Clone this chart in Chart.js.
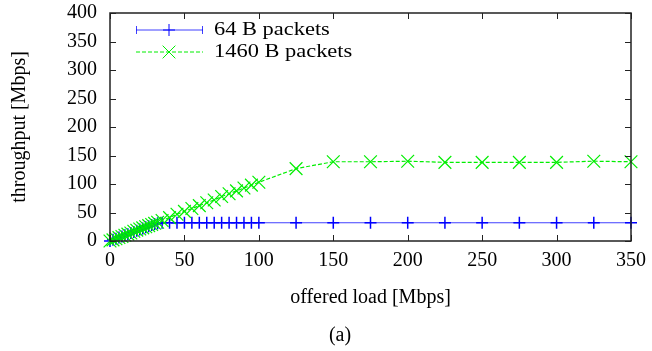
<!DOCTYPE html>
<html>
<head>
<meta charset="utf-8">
<script src="https://cdn.jsdelivr.net/npm/chart.js@4.4.1/dist/chart.umd.min.js"></script>
<style>
  body { margin: 0; background: #fff; }
  #wrap { position: relative; width: 652px; height: 351px; }
  #legenda { position: absolute; left: 0; top: 323px; width: 680px; text-align: center;
             font: 20px "Liberation Serif", serif; color: #000; }
</style>
</head>
<body>
<div id="wrap">
  <canvas id="graficoVazao" width="652" height="351"></canvas>
  <div id="legenda">(a)</div>
</div>
<script>
// carga oferecida (Mbps)
const cargas = [0, 2, 4, 6, 8, 10, 12, 14, 16, 18, 20, 22, 24, 26, 28, 30, 32,
  35, 40, 45, 50, 55, 60, 65, 70, 75, 80, 85, 90, 95, 100,
  125, 150, 175, 200, 225, 250, 275, 300, 325, 350];
// vazao com pacotes de 64 B
const vazao64 = [0, 2, 4, 6, 8, 10, 12, 14, 16, 18, 20, 22, 24, 26, 28, 30, 31,
  32, 32, 32, 32, 32, 32, 32, 32, 32, 32, 32, 32, 32, 32,
  32, 32, 32, 32, 32, 32, 32, 32, 32, 32];
// vazao com pacotes de 1460 B
const vazao1460 = [0, 2, 4, 6, 8, 10, 12, 14, 17, 19, 21, 23, 25, 27, 29, 31, 33,
  36, 41, 47, 52, 57, 62, 67, 72, 78, 83, 88, 93, 98, 103,
  127, 139, 139, 140, 138, 138, 138, 138, 140, 139];
const rotulos = ['64 B packets', '1460 B packets'];

const fonte = '"Liberation Serif", "Times New Roman", serif';

function pontos(xs, ys) {
  return xs.map((x, i) => ({ x: x, y: ys[i] }));
}

// moldura com marcas internas nos quatro lados, estilo gnuplot
const moldura = {
  id: 'moldura',
  afterDatasetsDraw(chart) {
    const { ctx, chartArea: a, scales } = chart;
    ctx.save();
    ctx.strokeStyle = '#222';
    ctx.lineWidth = 1.5;
    ctx.strokeRect(a.left, a.top, a.right - a.left, a.bottom - a.top);
    ctx.lineWidth = 1;
    ctx.beginPath();
    scales.x.ticks.forEach(t => {
      const px = Math.round(scales.x.getPixelForValue(t.value)) + 0.5;
      ctx.moveTo(px, a.bottom); ctx.lineTo(px, a.bottom - 6);
      ctx.moveTo(px, a.top); ctx.lineTo(px, a.top + 6);
    });
    scales.y.ticks.forEach(t => {
      const py = Math.round(scales.y.getPixelForValue(t.value)) + 0.5;
      ctx.moveTo(a.left, py); ctx.lineTo(a.left + 6, py);
      ctx.moveTo(a.right, py); ctx.lineTo(a.right - 6, py);
    });
    ctx.stroke();
    ctx.restore();
  }
};

// legenda: linha + marcador + texto
const legendaGnuplot = {
  id: 'legendaGnuplot',
  afterDraw(chart) {
    const { ctx } = chart;
    ctx.save();
    chart.data.datasets.forEach((ds, i) => {
      const y = 30 + i * 22;
      const x0 = 136, x1 = 203, xm = 169;
      ctx.strokeStyle = ds.borderColor;
      ctx.lineWidth = 1;
      ctx.setLineDash(ds.borderDash || []);
      ctx.beginPath(); ctx.moveTo(x0, y); ctx.lineTo(x1, y); ctx.stroke();
      ctx.setLineDash([]);
      if (i === 0) {
        ctx.beginPath();
        ctx.moveTo(x0 + 0.5, y - 4); ctx.lineTo(x0 + 0.5, y + 4);
        ctx.moveTo(x1 - 0.5, y - 4); ctx.lineTo(x1 - 0.5, y + 4);
        ctx.stroke();
      }
      ctx.strokeStyle = ds.pointBorderColor;
      Chart.helpers.drawPoint(ctx, {
        pointStyle: ds.pointStyle, radius: ds.pointRadius, borderWidth: ds.pointBorderWidth
      }, xm, y);
      // texto levemente alargado como no original
      ctx.save();
      ctx.translate(214, y);
      ctx.scale(1.15, 1);
      ctx.fillStyle = '#000';
      ctx.font = '19.5px ' + fonte;
      ctx.textBaseline = 'middle';
      ctx.fillText(rotulos[i], 0, 0);
      ctx.restore();
    });
    ctx.restore();
  }
};

new Chart(document.getElementById('graficoVazao'), {
  type: 'line',
  data: {
    datasets: [{
      label: rotulos[0],
      data: pontos(cargas, vazao64),
      borderColor: 'rgba(0,0,255,0.75)',
      backgroundColor: 'rgba(0,0,255,0.75)',
      borderWidth: 1.2,
      pointStyle: 'cross',
      pointRadius: 6,
      pointBorderWidth: 1.5,
      pointBorderColor: '#0000ff',
      order: 2
    }, {
      label: rotulos[1],
      data: pontos(cargas, vazao1460),
      borderColor: '#00ee00',
      backgroundColor: '#00ee00',
      borderWidth: 1.2,
      borderDash: [4, 2],
      pointStyle: 'crossRot',
      pointRadius: 9,
      pointBorderWidth: 1.2,
      pointBorderColor: '#00ee00',
      order: 1
    }]
  },
  options: {
    responsive: false,
    animation: false,
    clip: false,
    layout: { padding: { left: 4, right: 21, top: 13, bottom: 37 } },
    plugins: { legend: { display: false }, tooltip: { enabled: false } },
    scales: {
      x: {
        type: 'linear', min: 0, max: 350,
        grid: { display: false, drawTicks: false },
        border: { display: false },
        ticks: { stepSize: 50, padding: 8, color: '#000', font: { family: fonte, size: 20 } },
        title: { display: true, text: 'offered load [Mbps]', color: '#000',
                 font: { family: fonte, size: 20 }, padding: { top: 10 } },
        afterFit(s) { s.height = 73; s.paddingLeft = 0; s.paddingRight = 0; }
      },
      y: {
        type: 'linear', min: 0, max: 400,
        grid: { display: false, drawTicks: false },
        border: { display: false },
        ticks: { stepSize: 50, padding: 13, color: '#000', font: { family: fonte, size: 20 } },
        title: { display: true, text: 'throughput [Mbps]', color: '#000',
                 font: { family: fonte, size: 20 }, padding: { bottom: 4 } },
        afterFit(s) { s.width = 106; s.paddingTop = 0; s.paddingBottom = 0; }
      }
    }
  },
  plugins: [moldura, legendaGnuplot]
});
</script>
</body>
</html>
